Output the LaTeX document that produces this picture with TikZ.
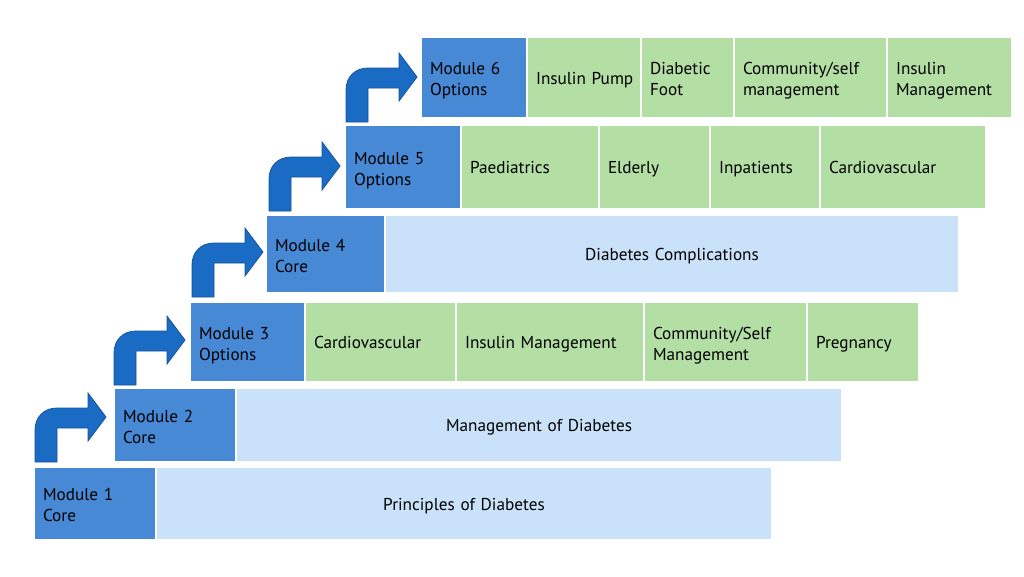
\documentclass[tikz,border=0pt]{standalone}
\usepackage{fontspec}
\setmainfont{PT Sans}
\definecolor{darkblue}{HTML}{4889D6}
\definecolor{lightblue}{HTML}{C9E2F9}
\definecolor{greencell}{HTML}{B3DEA4}
\definecolor{arrowblue}{HTML}{1A6BC4}
\definecolor{arrowedge}{HTML}{1454A0}
\tikzset{
  cellbase/.style={inner xsep=8pt, inner ysep=0pt, text=black,
    text height=15.5pt, text depth=2pt,
    font=\fontsize{17.2}{21}\selectfont},
  twoline/.style={text height=16.5pt, text depth=22pt},
  darkcell/.style={cellbase, twoline, fill=darkblue, align=left},
  lightcell/.style={cellbase, fill=lightblue, align=center},
  greencellst/.style={cellbase, fill=greencell, align=left},
  bentarrow/.style={fill=arrowblue, draw=arrowedge, line width=0.8pt}
}
\newcommand\mycell[7]{%
  \pgfmathsetmacro\cw{#4-#2}%
  \pgfmathsetmacro\ch{#5-#3}%
  \pgfmathsetmacro\tw{#4-#2-16}%
  \pgfmathsetmacro\cx{(#2+#4)/2}%
  \pgfmathsetmacro\cy{(#3+#5)/2}%
  \node[#6, text width=\tw pt, minimum width=\cw pt, minimum height=\ch pt] (#1) at (\cx,\cy) {#7};%
}
\newcommand\mybent[3]{%
  \begin{scope}[shift={(#2,#3)}]
    \draw[bentarrow] (0,0) -- (0,-32) .. controls (0,-45) and (9,-54) .. (22,-54)
      -- (53,-54) -- (53,-69) -- (71,-45) -- (53,-21) -- (53,-34) -- (22,-34) -- (22,0) -- cycle;
    \coordinate (#1) at (71,-45);
  \end{scope}%
}
\begin{document}
\begin{tikzpicture}[x=1pt,y=-1pt]
\useasboundingbox (0,0) rectangle (1024,576);
% Row 1
\mycell{m1}{35}{468}{155}{539}{darkcell}{Module 1\\Core}
\mycell{r1}{157}{468}{771}{539}{lightcell}{Principles of Diabetes}
% Row 2
\mycell{m2}{115}{389}{235}{461}{darkcell}{Module 2\\Core}
\mycell{r2}{237}{389}{841}{461}{lightcell}{Management of Diabetes}
% Row 3
\mycell{m3}{191}{303}{304}{381}{darkcell}{Module 3\\Options}
\mycell{c31}{306}{303}{455}{381}{greencellst}{Cardiovascular}
\mycell{c32}{457}{303}{643}{381}{greencellst}{Insulin Management}
\mycell{c33}{645}{303}{806}{381}{greencellst,twoline}{Community/Self\\Management}
\mycell{c34}{808}{303}{918}{381}{greencellst}{Pregnancy}
% Row 4
\mycell{m4}{267}{216}{384}{292}{darkcell}{Module 4\\Core}
\mycell{r4}{386}{216}{958}{292}{lightcell}{Diabetes Complications}
% Row 5
\mycell{m5}{346}{126}{460}{208}{darkcell}{Module 5\\Options}
\mycell{c51}{462}{126}{598}{208}{greencellst}{Paediatrics}
\mycell{c52}{600}{126}{709}{208}{greencellst}{Elderly}
\mycell{c53}{711}{126}{819}{208}{greencellst}{Inpatients}
\mycell{c54}{821}{126}{985}{208}{greencellst}{Cardiovascular}
% Row 6
\mycell{m6}{422}{38}{526}{117}{darkcell}{Module 6\\Options}
\mycell{c61}{528}{38}{640}{117}{greencellst}{Insulin~Pump}
\mycell{c62}{642}{38}{733}{117}{greencellst,twoline}{Diabetic\\Foot}
\mycell{c63}{735}{38}{886}{117}{greencellst,twoline}{Community/self\\management}
\mycell{c64}{888}{38}{1011}{117}{greencellst,twoline}{Insulin\\Management}
% Bent arrows
\mybent{a1}{35}{462}
\mybent{a2}{114}{385}
\mybent{a3}{192}{297}
\mybent{a4}{269}{211}
\mybent{a5}{346}{122}
\end{tikzpicture}
\end{document}
